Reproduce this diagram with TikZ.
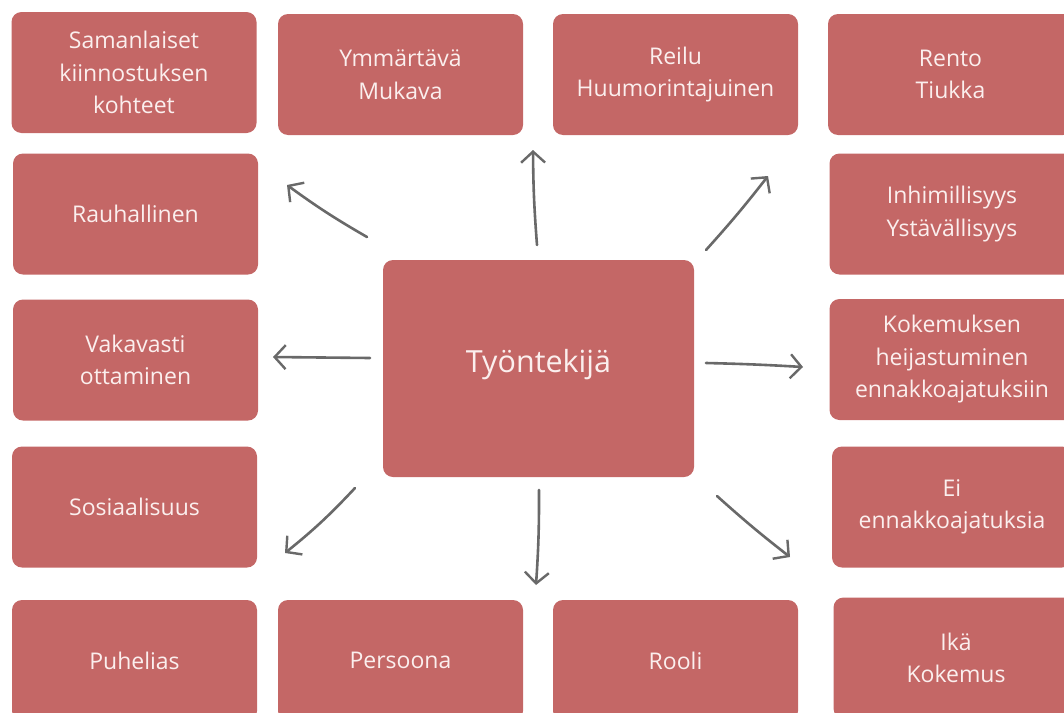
\documentclass[tikz,border=0pt]{standalone}
\usepackage{fontspec}
\setmainfont{Open Sans}
\usetikzlibrary{arrows.meta}
\definecolor{boxred}{HTML}{C46766}
\definecolor{boxtext}{HTML}{FBEFEE}
\definecolor{arrowgray}{HTML}{696969}
\tikzset{
  card/.style={fill=boxred, rounded corners=10pt, inner sep=0pt,
    minimum width=245pt, minimum height=121pt, text=boxtext,
    align=center, font=\fontsize{23}{32.5}\selectfont},
  bigcard/.style={card, minimum width=311pt, minimum height=217pt,
    font=\fontsize{30.5}{34}\selectfont},
  sketcharrow/.style={draw=arrowgray, line width=2.6pt, line cap=round,
    -{Straight Barb[length=11pt,width=24pt,line width=2.4pt]}}
}
\begin{document}
\begin{tikzpicture}[x=1pt,y=-1pt]
\useasboundingbox (0,0) rectangle (1064,712);
\clip (0,0) rectangle (1064,712);
% boxes
\node[card] (sam) at (134,72.5) {Samanlaiset\\kiinnostuksen\\kohteet};
\node[card] (ymm) at (400.5,74.5) {Ymmärtävä\\Mukava};
\node[card] (rei) at (675.5,74.5) {Reilu\\Huumorintajuinen};
\node[card] (ren) at (950.5,74.5) {Rento\\Tiukka};
\node[card] (rau) at (135.5,214) {Rauhallinen};
\node[card] (inh) at (952,214) {Inhimillisyys\\Ystävällisyys};
\node[card] (vak) at (135.5,360) {Vakavasti\\ottaminen};
\node[card] (kok) at (952,359.5) {Kokemuksen\\heijastuminen\\ennakkoajatuksiin};
\node[bigcard] (tyo) at (538.5,368.5) {\raisebox{15pt}{Työntekijä}};
\node[card] (sos) at (134.5,507) {Sosiaalisuus};
\node[card, minimum width=240pt] (eie) at (952,507) {Ei\\ennakkoajatuksia};
\node[card] (puh) at (134.5,660.5) {Puhelias};
\node[card] (per) at (400.5,660.5) {Persoona};
\node[card] (roo) at (675.5,660.5) {Rooli};
\node[card] (ika) at (956,658) {Ikä\\Kokemus};
% arrow ends
\coordinate (nwS) at (367,237); \coordinate (nwE) at (287,185);
\coordinate (nS) at (537,245);  \coordinate (nE) at (533,150);
\coordinate (neS) at (706,250); \coordinate (neE) at (768,176);
\coordinate (wS) at (370,358);  \coordinate (wE) at (273,357);
\coordinate (eS) at (706,363);  \coordinate (eE) at (803,367);
\coordinate (swS) at (355,488); \coordinate (swE) at (285,553);
\coordinate (sS) at (539,490);  \coordinate (sE) at (536,585);
\coordinate (seS) at (717,496); \coordinate (seE) at (790,557);
\draw[sketcharrow] (nwS) to[bend left=3] (nwE);
\draw[sketcharrow] (nS) to[bend left=2] (nE);
\draw[sketcharrow] (neS) to[bend right=2] (neE);
\draw[sketcharrow] (wS) -- (wE);
\draw[sketcharrow] (eS) to[bend left=1] (eE);
\draw[sketcharrow] (swS) to[bend left=4] (swE);
\draw[sketcharrow] (sS) to[bend left=2] (sE);
\draw[sketcharrow] (seS) to[bend right=2] (seE);
\end{tikzpicture}
\end{document}
